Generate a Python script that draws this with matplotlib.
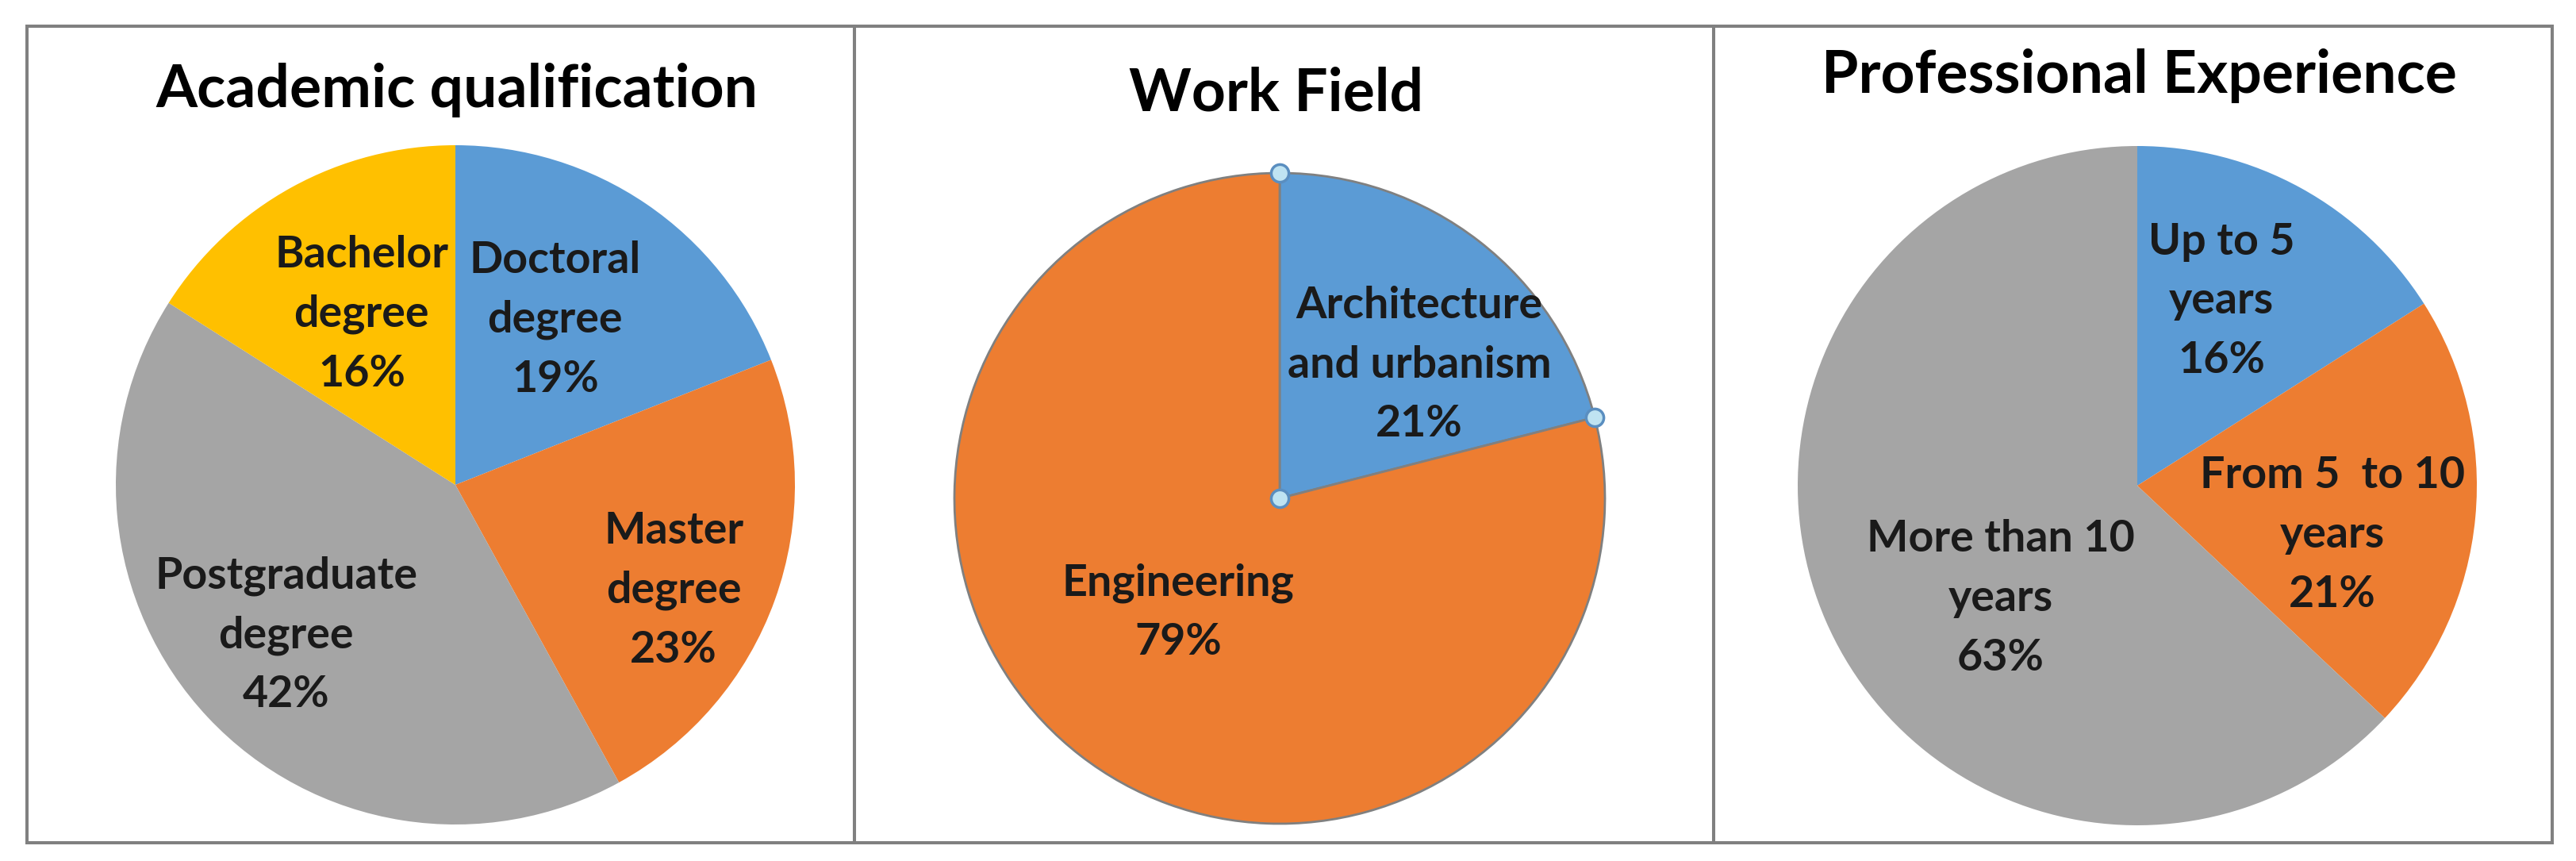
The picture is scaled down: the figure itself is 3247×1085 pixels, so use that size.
import numpy as np
import matplotlib
matplotlib.use('Agg')
import matplotlib.pyplot as plt
from matplotlib.patches import Rectangle

plt.rcParams['font.family'] = ['Lato', 'DejaVu Sans']

# --- data ---
acad_labels = ["Doctoral\ndegree", "Master\ndegree", "Postgraduate\ndegree", "Bachelor\ndegree"]
acad_values = [19, 23, 42, 16]

work_labels = ["Architecture\nand urbanism", "Engineering"]
work_values = [21, 79]

exp_labels = ["Up to 5\nyears", "From 5  to 10\nyears", "More than 10\nyears"]
exp_values = [16, 21, 63]

titles = ["Academic qualification", "Work Field", "Professional Experience"]

BLUE, ORANGE, GRAY, GOLD = '#5B9BD5', '#ED7D31', '#A5A5A5', '#FFC000'

W, H = 3247, 1085
PAD = 1.1
fig = plt.figure(figsize=(W / 100, H / 100), dpi=100)


def pie_axes(cx, cy, r):
    ax = fig.add_axes([(cx - r * PAD) / W, 1 - (cy + r * PAD) / H,
                       2 * r * PAD / W, 2 * r * PAD / H])
    return ax


def finish(ax):
    # pie() resets limits to +-1.25, put them back so radius 1 fills the box
    ax.set_xlim(-PAD, PAD)
    ax.set_ylim(-PAD, PAD)
    ax.axis('off')


def put_labels(ax, labels, values, offsets, size=40):
    for lab, v, (dx, dy) in zip(labels, values, offsets):
        ax.text(dx, dy, f"{lab}\n{v}%", ha='center', va='center',
                fontsize=size, fontweight='bold', color='#1a1a1a',
                linespacing=1.6)


# panel frames
frame_kw = dict(fill=False, edgecolor='#808080', linewidth=2.9,
                transform=fig.transFigure, figure=fig)
for x0, x1 in [(34, 1077), (1077, 2160), (2160, 3217)]:
    fig.patches.append(Rectangle((x0 / W, 1 - 1062 / H), (x1 - x0) / W,
                                 (1062 - 33) / H, **frame_kw))

# Academic qualification
ax1 = pie_axes(574, 611, 428)
ax1.pie(acad_values, colors=[BLUE, ORANGE, GRAY, GOLD], startangle=90,
        counterclock=False, radius=1)
put_labels(ax1, acad_labels, acad_values,
           [(0.294, 0.486), (0.643, -0.311), (-0.498, -0.442), (-0.276, 0.502)])
finish(ax1)

# Work Field
ax2 = pie_axes(1613, 628, 410)
wedges, _ = ax2.pie(work_values, colors=[BLUE, ORANGE], startangle=90,
                    counterclock=False, radius=1,
                    wedgeprops=dict(edgecolor='#808080', linewidth=2.0))
put_labels(ax2, work_labels, work_values, [(0.429, 0.41), (-0.312, -0.351)])
w = wedges[0]
angs = np.deg2rad([w.theta1, w.theta2])
ax2.plot([0, *np.cos(angs)], [0, *np.sin(angs)], 'o', ms=16,
         mfc='#BFE3F2', mec='#5A8EC0', mew=2.5, clip_on=False, zorder=5)
finish(ax2)

# Professional Experience
ax3 = pie_axes(2694, 612, 428)
ax3.pie(exp_values, colors=[BLUE, ORANGE, GRAY], startangle=90,
        counterclock=False, radius=1)
put_labels(ax3, exp_labels, exp_values,
           [(0.248, 0.544), (0.575, -0.145), (-0.402, -0.332)])
finish(ax3)

for t, (x, y) in zip(titles, [(576, 114), (1609, 118), (2696, 95)]):
    fig.text(x / W, 1 - y / H, t, ha='center', va='center',
             fontsize=54, fontweight='bold', color='black')

fig.savefig('out.png', dpi=100)
